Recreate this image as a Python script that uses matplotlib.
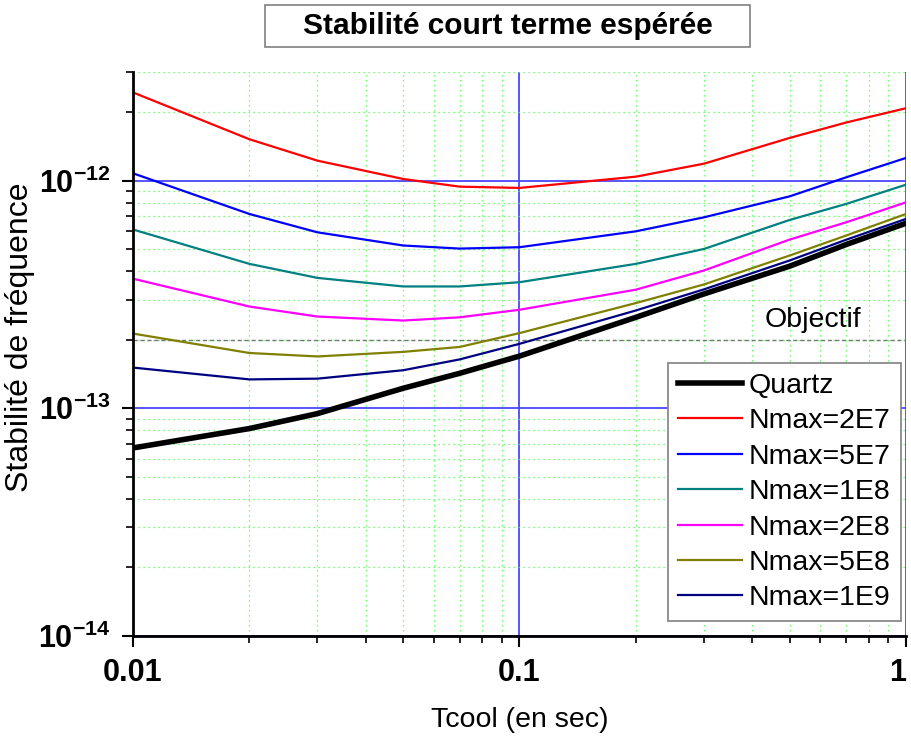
import matplotlib
matplotlib.use('Agg')
import matplotlib.pyplot as plt
from matplotlib.patches import Rectangle
from matplotlib.ticker import LogLocator, NullFormatter, FixedLocator

plt.rcParams['font.family'] = ['Liberation Sans', 'DejaVu Sans']
plt.rcParams['mathtext.fontset'] = 'custom'
plt.rcParams['mathtext.rm'] = 'Liberation Sans'
plt.rcParams['mathtext.bf'] = 'Liberation Sans:bold'

# Tcool (s) et stabilité
tcool = [0.01, 0.02, 0.03, 0.05, 0.07, 0.1, 0.2, 0.3, 0.5, 0.7, 1.0]

quartz = [0.0670e-12, 0.0815e-12, 0.0948e-12, 0.1225e-12, 0.1425e-12, 0.1696e-12,
          0.251e-12, 0.318e-12, 0.421e-12, 0.524e-12, 0.650e-12]
n2e7 = [2.44e-12, 1.52e-12, 1.224e-12, 1.017e-12, 0.941e-12, 0.929e-12,
        1.041e-12, 1.187e-12, 1.54e-12, 1.80e-12, 2.08e-12]
n5e7 = [1.077e-12, 0.714e-12, 0.593e-12, 0.519e-12, 0.503e-12, 0.510e-12,
        0.599e-12, 0.690e-12, 0.853e-12, 1.034e-12, 1.258e-12]
n1e8 = [0.610e-12, 0.431e-12, 0.374e-12, 0.343e-12, 0.343e-12, 0.358e-12,
        0.431e-12, 0.501e-12, 0.672e-12, 0.790e-12, 0.960e-12]
n2e8 = [0.371e-12, 0.280e-12, 0.253e-12, 0.243e-12, 0.251e-12, 0.271e-12,
        0.332e-12, 0.403e-12, 0.551e-12, 0.656e-12, 0.803e-12]
n5e8 = [0.213e-12, 0.175e-12, 0.169e-12, 0.177e-12, 0.186e-12, 0.214e-12,
        0.290e-12, 0.350e-12, 0.469e-12, 0.574e-12, 0.714e-12]
n1e9 = [0.151e-12, 0.134e-12, 0.135e-12, 0.147e-12, 0.164e-12, 0.192e-12,
        0.269e-12, 0.333e-12, 0.446e-12, 0.550e-12, 0.679e-12]

objectif = 2e-13

fig = plt.figure(figsize=(9.11, 7.4), dpi=100)
ax = fig.add_axes([0.146, 0.1405, 0.8485, 0.7622])

# grilles
ax.set_xscale('log')
ax.set_yscale('log')
ax.set_xlim(0.01, 1)
ax.set_ylim(1e-14, 3e-12)
ax.grid(which='minor', color='#44ff44', linestyle=(0, (1, 3)), linewidth=0.9)
ax.grid(which='major', color='#4848ff', linestyle='-', linewidth=1.3)
ax.axhline(objectif, color='#777777', linestyle=(0, (3, 2)), linewidth=1.0)

ax.plot(tcool, quartz, color='black', linewidth=4, label='Quartz')
ax.plot(tcool, n2e7, color='#ff0000', linewidth=1.6, label='Nmax=2E7')
ax.plot(tcool, n5e7, color='#0000ff', linewidth=1.6, label='Nmax=5E7')
ax.plot(tcool, n1e8, color='#008080', linewidth=1.6, label='Nmax=1E8')
ax.plot(tcool, n2e8, color='#ff00ff', linewidth=1.6, label='Nmax=2E8')
ax.plot(tcool, n5e8, color='#808000', linewidth=1.6, label='Nmax=5E8')
ax.plot(tcool, n1e9, color='#000080', linewidth=1.6, label='Nmax=1E9')

ax.text(0.88, 0.561, 'Objectif', fontsize=20.5, ha='center', va='center',
        transform=ax.transAxes)

# axes et graduations
for s in ['top', 'right']:
    ax.spines[s].set_visible(False)
for s in ['left', 'bottom']:
    ax.spines[s].set_linewidth(2)

ax.xaxis.set_major_locator(FixedLocator([0.01, 0.1, 1]))
ax.set_xticklabels(['0.01', '0.1', '1'], fontsize=22, fontweight='bold')
ax.get_xticklabels()[-1].set_horizontalalignment('right')
ax.xaxis.set_minor_locator(LogLocator(base=10, subs=range(2, 10)))
ax.xaxis.set_minor_formatter(NullFormatter())
ax.yaxis.set_major_locator(FixedLocator([1e-14, 1e-13, 1e-12]))
ax.set_yticklabels([r'$\mathbf{10^{-14}}$', r'$\mathbf{10^{-13}}$', r'$\mathbf{10^{-12}}$'],
                   fontsize=22)
ax.yaxis.set_minor_locator(LogLocator(base=10, subs=range(2, 10)))
ax.yaxis.set_minor_formatter(NullFormatter())
ax.tick_params(which='major', direction='out', length=8, width=1.5, pad=8)
ax.tick_params(which='minor', direction='out', length=5, width=1.2)

ax.set_xlabel('Tcool (en sec)', fontsize=20.5, va='top')
ax.xaxis.set_label_coords(0.5, -0.126)
ax.set_ylabel('Stabilité de fréquence', fontsize=23)
ax.yaxis.set_label_coords(-0.127, 0.53)

leg = ax.legend(loc='upper left', bbox_to_anchor=(0.692, 0.484), borderaxespad=0,
                fontsize=20.5, frameon=True, fancybox=False, edgecolor='#808080',
                framealpha=1, handlelength=2.25, handletextpad=0.25,
                labelspacing=0.33, borderpad=0.35)
leg.get_frame().set_linewidth(1.2)

# titre dans un cadre
fig.patches.append(Rectangle((0.291, 0.9365), 0.532, 0.0568, transform=fig.transFigure,
                             facecolor='white', edgecolor='#808080', linewidth=1.2))
fig.text(0.557, 0.965, 'Stabilité court terme espérée', fontsize=21.5, fontweight='bold',
         ha='center', va='center')

fig.savefig('out.png', dpi=100)
